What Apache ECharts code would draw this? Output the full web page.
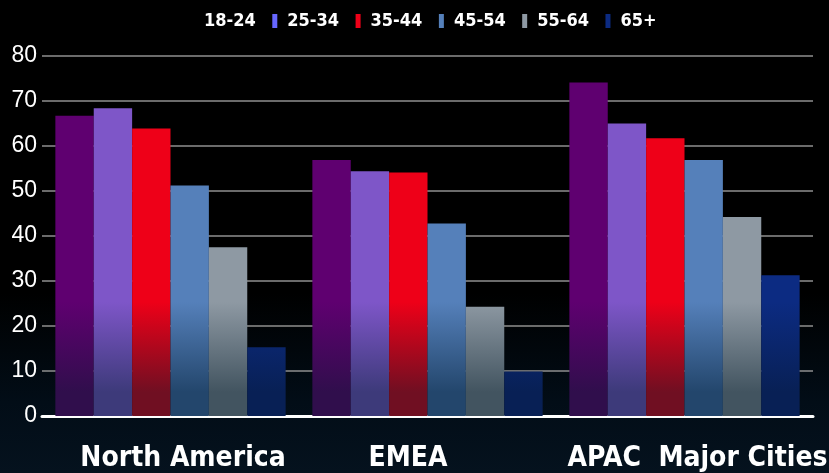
<!DOCTYPE html>
<html>
<head>
<meta charset="utf-8">
<script src="https://cdn.jsdelivr.net/npm/echarts@6/dist/echarts.min.js"></script>
<style>
	html, body {margin: 0; padding: 0; background: #000;}
	#chartId {width: 829px; height: 473px;}
</style>
</head>
<body>
<div id="chartId"></div>
<script>
var regions = ['North America', 'EMEA', 'APAC  Major Cities'];
var ageGroups = ['18-24', '25-34', '35-44', '45-54', '55-64', '65+'];
var yTicks = [0, 10, 20, 30, 40, 50, 60, 70, 80];

var age1824 = [66.7, 56.9, 74.1];
var age2534 = [68.4, 54.4, 65.0];
var age3544 = [63.9, 54.1, 61.7];
var age4554 = [51.2, 42.8, 56.9];
var age5564 = [37.5, 24.3, 44.2];
var age65 = [15.3, 9.9, 31.3];

var narrowFont = '"DejaVu Sans Condensed", "Liberation Sans Narrow", sans-serif';

var chart = {
	init: function(){
		var myChart = echarts.init(document.getElementById('chartId'));
		myChart.setOption(chart.getOption());
	},
	// 柱子底部变暗，按画布坐标统一渐变
	fade: function(top, bottom){
		return {
			type: 'linear', x: 0, y: 302, x2: 0, y2: 392, global: true,
			colorStops: [{offset: 0, color: top}, {offset: 1, color: bottom}]
		};
	},
	getOption: function(){
		var allValues = [age1824, age2534, age3544, age4554, age5564, age65];
		var topColors = ['#5f0070', '#7e56c8', '#ee0018', '#5580ba', '#8e99a3', '#0c2b82'];
		var bottomColors = ['#300e4c', '#3d3a7a', '#700f22', '#23466c', '#425460', '#082055'];
		var legendColors = ['rgba(0,0,0,0)', '#6666ff', '#ee0018', '#5580ba', '#8e99a3', '#0c2b82'];
		var labelPads = {
			'North America': [0, 0, 0, 25],
			'EMEA': [0, 39, 0, 0],
			'APAC  Major Cities': [0, 0, 0, 26]
		};

		var series = [];
		var legendData = [];
		for(var i = 0; i < ageGroups.length; i++){
			series.push({
				name: ageGroups[i],
				type: 'bar',
				data: allValues[i],
				barGap: '0%',
				barCategoryGap: '10.4%',
				itemStyle: {color: chart.fade(topColors[i], bottomColors[i])}
			});
			legendData.push({name: ageGroups[i], itemStyle: {color: legendColors[i]}});
		}

		var rich = {};
		for(var j = 0; j < regions.length; j++){
			rich['r' + j] = {
				color: '#fff',
				fontFamily: narrowFont,
				fontWeight: 'bold',
				fontSize: 28,
				padding: labelPads[regions[j]]
			};
		}

		option = {
			animation: false,
			backgroundColor: {
				type: 'linear', x: 0, y: 0, x2: 0, y2: 1,
				colorStops: [
					{offset: 0, color: '#000000'},
					{offset: 0.62, color: '#000000'},
					{offset: 0.85, color: '#020d17'},
					{offset: 1, color: '#05121e'}
				]
			},
			legend: {
				data: legendData,
				left: 189,
				top: 12,
				padding: 0,
				itemWidth: 5,
				itemHeight: 14,
				itemGap: 16.5,
				icon: 'rect',
				textStyle: {
					color: '#fff',
					fontFamily: narrowFont,
					fontWeight: 'bold',
					fontSize: 18,
					padding: [0, 0, 0, 5]
				}
			},
			grid: {left: 42, right: 16, top: 56, bottom: 57, outerBoundsMode: 'none'},
			xAxis: {
				type: 'category',
				data: regions,
				axisTick: {show: false},
				axisLine: {lineStyle: {color: '#fff', width: 3}},
				axisLabel: {
					margin: 29,
					interval: 0,
					formatter: function(value){
						return '{r' + regions.indexOf(value) + '|' + value + '}';
					},
					rich: rich
				}
			},
			yAxis: {
				type: 'value',
				min: yTicks[0],
				max: yTicks[yTicks.length - 1],
				interval: 10,
				axisLine: {show: false},
				axisTick: {show: false},
				axisLabel: {
					color: '#fff',
					fontFamily: 'Liberation Sans',
					fontSize: 23,
					margin: 5
				},
				splitLine: {lineStyle: {color: '#8f8f8f', width: 1.5}}
			},
			series: series
		};

		return option;
	}
};

chart.init();
</script>
</body>
</html>
